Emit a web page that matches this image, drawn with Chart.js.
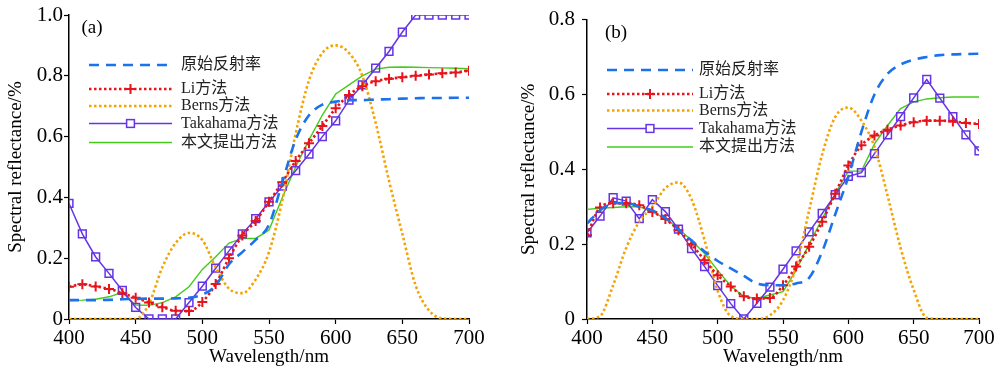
<!DOCTYPE html>
<html>
<head>
<meta charset="utf-8">
<script src="https://cdn.jsdelivr.net/npm/chart.js@4.4.1/dist/chart.umd.min.js"></script>
<style>
  html, body { margin: 0; padding: 0; background: #fff; }
  #wrap { position: relative; width: 1000px; height: 370px; }
  .panel { position: absolute; top: 0; width: 500px; height: 370px; }
</style>
</head>
<body>
<div id="wrap">
  <div class="panel" style="left:0"><canvas id="chartA" width="500" height="370"></canvas></div>
  <div class="panel" style="left:500px"><canvas id="chartB" width="500" height="370"></canvas></div>
</div>
<script>
// wavelengths, 10 nm steps
const wavelengths = [400, 410, 420, 430, 440, 450, 460, 470, 480, 490, 500, 510, 520, 530, 540, 550,
  560, 570, 580, 590, 600, 610, 620, 630, 640, 650, 660, 670, 680, 690, 700];
const xTicks = [400, 450, 500, 550, 600, 650, 700];
const seriesNames = ['原始反射率', 'Li方法', 'Berns方法', 'Takahama方法', '本文提出方法'];

// (a)
const origA = [0.062, 0.062, 0.062, 0.063, 0.065, 0.066, 0.067, 0.067, 0.068, 0.07, 0.08, 0.11, 0.18, 0.22, 0.26, 0.31,
  0.45, 0.59, 0.67, 0.705, 0.715, 0.72, 0.72, 0.722, 0.723, 0.725, 0.726, 0.727, 0.727, 0.728, 0.728];
const liA = [0.106, 0.114, 0.107, 0.099, 0.085, 0.07, 0.054, 0.039, 0.027, 0.026, 0.056, 0.115, 0.2, 0.275, 0.322, 0.386,
  0.45, 0.52, 0.578, 0.635, 0.693, 0.737, 0.766, 0.782, 0.79, 0.795, 0.8, 0.804, 0.808, 0.811, 0.817];
const bernsA = [0, 0, 0, 0, 0, 0, 0.05, 0.17, 0.25, 0.283, 0.26, 0.17, 0.10, 0.085, 0.13, 0.22,
  0.39, 0.61, 0.785, 0.875, 0.90, 0.875, 0.80, 0.645, 0.455, 0.28, 0.11, 0.028, 0.002, 0, 0];
const takaA = [0.38, 0.28, 0.204, 0.15, 0.094, 0.038, 0, 0, 0, 0.054, 0.108, 0.167, 0.224, 0.28, 0.33, 0.385,
  0.437, 0.488, 0.542, 0.60, 0.652, 0.72, 0.77, 0.825, 0.88, 0.944, 1, 1, 1, 1, 1];
const oursA = [0.061, 0.062, 0.065, 0.073, 0.087, 0.046, 0.045, 0.054, 0.073, 0.106, 0.163, 0.205, 0.25, 0.265, 0.265, 0.293,
  0.40, 0.50, 0.589, 0.671, 0.74, 0.77, 0.80, 0.822, 0.828, 0.829, 0.828, 0.827, 0.826, 0.825, 0.823];
const yTicksA = [0, 0.2, 0.4, 0.6, 0.8, 1.0];

// (b)
const origB = [0.255, 0.29, 0.31, 0.31, 0.30, 0.29, 0.27, 0.24, 0.21, 0.18, 0.155, 0.135, 0.115, 0.095, 0.09, 0.09,
  0.095, 0.11, 0.18, 0.28, 0.38, 0.50, 0.60, 0.655, 0.68, 0.693, 0.70, 0.705, 0.707, 0.708, 0.709];
const liB = [0.224, 0.298, 0.309, 0.309, 0.304, 0.286, 0.267, 0.237, 0.20, 0.157, 0.117, 0.087, 0.061, 0.055, 0.056, 0.09,
  0.14, 0.193, 0.26, 0.335, 0.41, 0.464, 0.49, 0.506, 0.517, 0.526, 0.53, 0.53, 0.528, 0.524, 0.521];
const bernsB = [0, 0.008, 0.09, 0.19, 0.26, 0.30, 0.35, 0.365, 0.32, 0.21, 0.075, 0.008, 0, 0, 0.01, 0.05,
  0.14, 0.29, 0.44, 0.54, 0.565, 0.53, 0.46, 0.33, 0.19, 0.078, 0.003, 0, 0, 0, 0];
const takaB = [0.23, 0.275, 0.324, 0.315, 0.268, 0.319, 0.287, 0.24, 0.188, 0.14, 0.089, 0.041, 0, 0.042, 0.085, 0.133,
  0.182, 0.233, 0.282, 0.332, 0.381, 0.391, 0.442, 0.492, 0.541, 0.591, 0.64, 0.59, 0.541, 0.492, 0.449];
const oursB = [0.293, 0.296, 0.298, 0.30, 0.30, 0.286, 0.268, 0.242, 0.21, 0.175, 0.13, 0.088, 0.06, 0.055, 0.064, 0.073,
  0.13, 0.20, 0.268, 0.335, 0.395, 0.395, 0.468, 0.517, 0.562, 0.58, 0.588, 0.591, 0.593, 0.593, 0.593];
const yTicksB = [0, 0.2, 0.4, 0.6, 0.8];

const SERIF = '"Liberation Serif", "Times New Roman", "Noto Sans CJK SC", serif';

const styles = [
  { borderColor: '#1b72ea', borderWidth: 2.6, borderDash: [10, 7], cubicInterpolationMode: 'monotone', pointRadius: 0 },
  { borderColor: '#e8141c', borderWidth: 2.6, borderDash: [2.5, 2.5], cubicInterpolationMode: 'monotone',
    pointStyle: 'cross', pointRadius: 5, pointBorderWidth: 2 },
  { borderColor: '#f5a300', borderWidth: 2.6, borderDash: [2.5, 2.5], cubicInterpolationMode: 'monotone', pointRadius: 0 },
  { borderColor: '#6434e6', borderWidth: 1.5, tension: 0, pointStyle: 'rect', pointRadius: 5.5, pointBorderWidth: 1.5 },
  { borderColor: '#44cc18', borderWidth: 1.4, tension: 0, pointRadius: 0 }
];

function pairs(vals) {
  return wavelengths.map((w, i) => ({ x: w, y: vals[i] }));
}

// draws the in-plot legend and panel tag
const sampleLegend = {
  id: 'sampleLegend',
  afterDatasetsDraw(chart, args, opts) {
    const ctx = chart.ctx;
    ctx.save();
    chart.data.datasets.forEach((ds, i) => {
      const y = opts.rows[i];
      ctx.strokeStyle = ds.borderColor;
      ctx.lineWidth = ds.borderWidth;
      ctx.setLineDash(ds.borderDash || []);
      ctx.beginPath();
      ctx.moveTo(opts.x0, y);
      ctx.lineTo(opts.x1, y);
      ctx.stroke();
      ctx.setLineDash([]);
      const mx = (opts.x0 + opts.x1) / 2;
      if (ds.pointStyle === 'cross') {
        ctx.lineWidth = ds.pointBorderWidth;
        ctx.beginPath();
        ctx.moveTo(mx - ds.pointRadius, y); ctx.lineTo(mx + ds.pointRadius, y);
        ctx.moveTo(mx, y - ds.pointRadius); ctx.lineTo(mx, y + ds.pointRadius);
        ctx.stroke();
      } else if (ds.pointStyle === 'rect') {
        const s = ds.pointRadius * Math.SQRT1_2;
        ctx.lineWidth = ds.pointBorderWidth;
        ctx.fillStyle = '#fff';
        ctx.fillRect(mx - s, y - s, 2 * s, 2 * s);
        ctx.strokeRect(mx - s, y - s, 2 * s, 2 * s);
      }
      ctx.fillStyle = '#222';
      ctx.font = '16px ' + SERIF;
      ctx.textBaseline = 'middle';
      ctx.fillText(ds.label, opts.tx, y);
    });
    ctx.fillStyle = '#000';
    ctx.font = '19px ' + SERIF;
    ctx.textBaseline = 'middle';
    ctx.textAlign = 'center';
    ctx.fillText(opts.tag, opts.tagX, opts.tagY);
    ctx.restore();
  }
};

function makeChart(id, data, yMax, yTicks, box, legend) {
  const datasets = data.map((vals, i) => Object.assign({
    label: seriesNames[i],
    data: pairs(vals),
    backgroundColor: 'rgba(0,0,0,0)',
    pointBackgroundColor: 'rgba(0,0,0,0)',
    pointBorderColor: styles[i].borderColor,
    pointHoverRadius: 0,
    fill: false
  }, styles[i]));

  return new Chart(document.getElementById(id).getContext('2d'), {
    type: 'line',
    data: { datasets },
    options: {
      responsive: false,
      animation: false,
      events: [],
      layout: { padding: { left: 0, right: box.right, top: box.top, bottom: 0 } },
      plugins: {
        legend: { display: false },
        tooltip: { enabled: false },
        sampleLegend: legend
      },
      scales: {
        x: {
          type: 'linear',
          min: 400,
          max: 700,
          afterBuildTicks: s => { s.ticks = xTicks.map(v => ({ value: v })); },
          afterFit: s => { s.height = 51; },
          ticks: { color: '#000', font: { family: SERIF, size: 21 }, padding: 2, maxRotation: 0 },
          grid: { drawOnChartArea: false, color: '#000', tickLength: 5, tickWidth: 1.2 },
          border: { display: true, color: '#000', width: 1.5 },
          title: { display: true, text: 'Wavelength/nm', color: '#000', font: { family: SERIF, size: 19 }, padding: { top: 0, bottom: 2 } }
        },
        y: {
          min: 0,
          max: yMax,
          afterBuildTicks: s => { s.ticks = yTicks.map(v => ({ value: v })); },
          afterFit: s => { s.width = box.axisW; },
          ticks: {
            color: '#000', font: { family: SERIF, size: 21 }, padding: box.tickPad,
            callback: v => (v === 0 ? '0' : v.toFixed(1))
          },
          grid: { drawOnChartArea: false, color: '#000', tickLength: 5, tickWidth: 1.2 },
          border: { display: true, color: '#000', width: 1.5 },
          title: { display: true, text: 'Spectral reflectance/%', color: '#000', font: { family: SERIF, size: 19 }, padding: { top: box.titlePad, bottom: 0 } }
        }
      }
    },
    plugins: [sampleLegend]
  });
}

makeChart('chartA', [origA, liA, bernsA, takaA, oursA], 1.0, yTicksA,
  { axisW: 69, right: 31, top: 15, tickPad: 1, titlePad: 4.5 },
  { rows: [65, 89, 106, 123.5, 142.5], x0: 89, x1: 172, tx: 181, tag: '(a)', tagX: 92, tagY: 28 });

makeChart('chartB', [origB, liB, bernsB, takaB, oursB], 0.8, yTicksB,
  { axisW: 87, right: 21, top: 19, tickPad: 7, titlePad: 17.5 },
  { rows: [70, 94, 110.5, 128.5, 147], x0: 107, x1: 193, tx: 199, tag: '(b)', tagX: 116, tagY: 33 });
</script>
</body>
</html>
